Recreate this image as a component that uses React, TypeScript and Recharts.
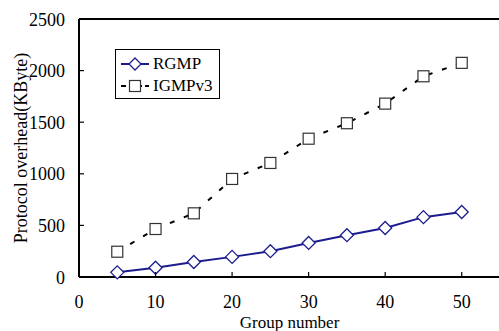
import { Line, LineChart, ReferenceLine, XAxis, YAxis } from 'recharts';

const groups = [5, 10, 15, 20, 25, 30, 35, 40, 45, 50];
const rgmp = [45, 90, 145, 195, 250, 330, 405, 475, 580, 630];
const igmpv3 = [245, 465, 617, 950, 1105, 1340, 1490, 1680, 1945, 2075];
const xTicks = [0, 10, 20, 30, 40, 50];
const yTicks = [0, 500, 1000, 1500, 2000, 2500];

const data = groups.map((g, i) => ({ group: g, rgmp: rgmp[i], igmpv3: igmpv3[i] }));

const font = 'Liberation Serif';
const navy = '#1c1c8e';

function Diamond(props: any) {
  const { cx, cy } = props;
  if (cx == null || cy == null) return null;
  const r = 6.5;
  return (
    <path
      d={`M${cx},${cy - r} L${cx + r},${cy} L${cx},${cy + r} L${cx - r},${cy} Z`}
      fill="#fff"
      stroke={navy}
      strokeWidth={1.3}
    />
  );
}

function Square(props: any) {
  const { cx, cy } = props;
  if (cx == null || cy == null) return null;
  const h = 5.5;
  return <rect x={cx - h} y={cy - h} width={h * 2} height={h * 2} fill="#fff" stroke="#333" strokeWidth={1.2} />;
}

function YTick(props: any) {
  const { x, y, payload } = props;
  return (
    <g>
      <line x1={x} x2={x + 5} y1={y} y2={y} stroke="#000" strokeWidth={1.2} />
      <text x={x - 14} y={y + 6.5} textAnchor="end" fill="#000" fontFamily={font} fontSize={18}>
        {payload.value}
      </text>
    </g>
  );
}

function XTick(props: any) {
  const { x, y, payload } = props;
  return (
    <g>
      <line x1={x} x2={x} y1={y} y2={y - 5} stroke="#000" strokeWidth={1.2} />
      <text x={x} y={y + 31} textAnchor="middle" fill="#000" fontFamily={font} fontSize={18}>
        {payload.value}
      </text>
    </g>
  );
}

function YLabel() {
  return (
    <text
      x={0}
      y={0}
      transform="translate(27, 148) rotate(-90)"
      textAnchor="middle"
      fill="#000"
      fontFamily={font}
      fontSize={18}
    >
      Protocol overhead(KByte)
    </text>
  );
}

function XLabel(props: any) {
  const { viewBox } = props;
  const cx = viewBox.x + viewBox.width / 2;
  return (
    <text x={cx} y={328} textAnchor="middle" fill="#000" fontFamily={font} fontSize={17}>
      Group number
    </text>
  );
}

function LegendBox() {
  const rows = [
    { label: 'RGMP', color: navy, dash: undefined, marker: 'diamond' },
    { label: 'IGMPv3', color: '#000', dash: '5 3', marker: 'square' },
  ];
  return (
    <div
      style={{
        position: 'absolute',
        left: 115,
        top: 49,
        border: '1px solid #000',
        background: '#fff',
        width: 105,
        height: 50,
        boxSizing: 'border-box',
        fontFamily: font,
        fontSize: 17,
        padding: '3px 0 0 4px',
      }}
    >
      {rows.map((r) => (
        <div key={r.label} style={{ display: 'flex', alignItems: 'center', height: 22 }}>
          <svg width={30} height={16}>
            <line x1={1} x2={29} y1={8} y2={8} stroke={r.color} strokeWidth={2} strokeDasharray={r.dash} />
            {r.marker === 'diamond' ? (
              <path d="M15,2 L21,8 L15,14 L9,8 Z" fill="#fff" stroke={navy} strokeWidth={1.3} />
            ) : (
              <rect x={9.5} y={2.5} width={11} height={11} fill="#fff" stroke="#333" strokeWidth={1.2} />
            )}
          </svg>
          <span style={{ marginLeft: 3, lineHeight: '16px' }}>{r.label}</span>
        </div>
      ))}
    </div>
  );
}

export default function App() {
  return (
    <div
      style={{
        position: 'absolute',
        left: 0,
        top: 0,
        width: 499,
        height: 331,
        overflow: 'hidden',
        background: '#fff',
        fontFamily: font,
      }}
    >
      <LineChart width={520} height={331} data={data} margin={{ top: 19, right: 20, left: 0, bottom: 14 }}>
        <XAxis
          dataKey="group"
          type="number"
          domain={[0, 55]}
          ticks={xTicks}
          tick={<XTick />}
          tickLine={false}
          tickSize={0}
          tickMargin={0}
          height={40}
          axisLine={{ stroke: '#000', strokeWidth: 2 }}
          label={<XLabel />}
        />
        <YAxis
          type="number"
          domain={[0, 2500]}
          ticks={yTicks}
          tick={<YTick />}
          tickLine={false}
          tickSize={0}
          tickMargin={0}
          width={79}
          axisLine={{ stroke: '#000', strokeWidth: 2 }}
          label={<YLabel />}
        />
        <ReferenceLine y={2500} stroke="#000" strokeWidth={2} ifOverflow="visible" />
        <Line
          dataKey="igmpv3"
          stroke="#000"
          strokeWidth={2}
          strokeDasharray="5 10"
          dot={<Square />}
          isAnimationActive={false}
        />
        <Line dataKey="rgmp" stroke={navy} strokeWidth={2} dot={<Diamond />} isAnimationActive={false} />
      </LineChart>
      <LegendBox />
    </div>
  );
}
